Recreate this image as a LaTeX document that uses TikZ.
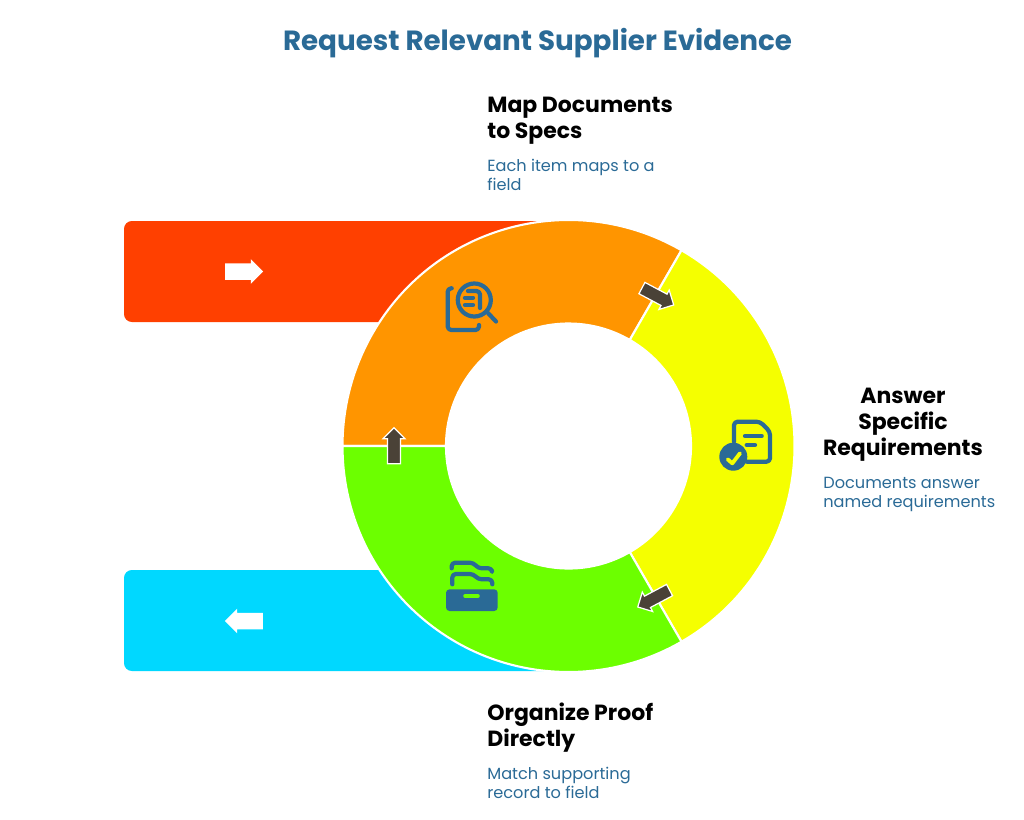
\documentclass[tikz,border=0pt]{standalone}
\usepackage{fontspec}
\setmainfont{Poppins}
\usetikzlibrary{shapes.arrows}
\definecolor{barred}{HTML}{FF4000}
\definecolor{barblue}{HTML}{00D8FF}
\definecolor{segorange}{HTML}{FF9500}
\definecolor{segyellow}{HTML}{F5FF00}
\definecolor{seggreen}{HTML}{6CFF00}
\definecolor{inkblue}{HTML}{2A6A96}
\definecolor{arrowdark}{HTML}{4A4237}
\tikzset{
	segment/.style = {draw = white, line width = 1.2pt},
	turn/.style = {single arrow, draw = white, fill = arrowdark, line width = 0.7pt, minimum height = 36*0.569pt, single arrow head extend = 2.6pt, inner xsep = 0pt, inner ysep = 3.3pt, outer sep = 0pt},
	pointer/.style = {single arrow, fill = white, minimum height = 38*0.569pt, single arrow head extend = 2.3pt, inner xsep = 0pt, inner ysep = 4.5pt, outer sep = 0pt},
	heading/.style = {anchor = base west, font = \fontsize{12.5}{12.5}\selectfont\bfseries, inner sep = 0pt},
	remark/.style = {anchor = base west, font = \fontsize{9.2}{9.2}\selectfont, text = inkblue, inner sep = 0pt},
	icon/.style = {draw = inkblue, line width = 2.4pt, line cap = round, line join = round, rounded corners = 2pt}
}
\begin{document}
\begin{tikzpicture}[x = 0.02cm, y = -0.02cm]
		\useasboundingbox (0,0) rectangle (1024,819);
		%
		\fill [barred, rounded corners = 4.5pt] (124,221) rectangle (600,322);
		\fill [barblue, rounded corners = 4.5pt] (124,570) rectangle (600,671);
		%
		\foreach \from/\to/\col in {60/180/segorange, -60/60/segyellow, -180/-60/seggreen}{
				\filldraw [segment, fill = \col] (568.5,446) ++(\from:226 and -226) arc [start angle = \from, end angle = \to, x radius = 226, y radius = -226] -- ++(180+\to:103.5 and -103.5) arc [start angle = \to, end angle = \from, x radius = 122.5, y radius = -122.5] -- cycle;
			}
		%
		\node (right) [pointer] at (240,271.5) {};
		\node (left) [pointer, rotate = 180] at (248,621) {};
		\node (orange to yellow) [turn, rotate = -28] at (655,295) {};
		\node (yellow to green) [turn, rotate = 208] at (656.5,597) {};
		\node (green to orange) [turn, rotate = 90] at (394,449) {};
		%
		% magnifier
		\draw [icon] (474.3,300) circle [radius = 16.5];
		\draw [icon] (488,313) -- (496,321.5);
		\draw [icon] (451.7,288.3) -- (447.7,288.3) -- (447.7,330) -- (479,330) -- (479,325);
		\draw [icon] (465,297.7) -- (473,297.7);
		\draw [icon] (465,305) -- (473,305);
		\draw [icon] (468,291) -- (480,291) -- (480,308);
		% document
		\draw [icon] (734,441.7) -- (734,421.7) -- (760,421.7) -- (770,431.7) -- (770,461.7) -- (746.7,461.7);
		\draw [icon] (745,436) -- (761.7,436);
		\draw [icon] (746.7,445) -- (755,445);
		\fill [inkblue] (733.3,456.7) circle [radius = 14];
		\draw [segyellow, line width = 2.2pt, line cap = round, line join = round] (727.7,459.3) -- (732.3,463.3) -- (740,453.3);
		% drawer
		\fill [inkblue, rounded corners = 2pt] (446,589.3) rectangle (497.7,611);
		\draw [seggreen, line width = 2pt, line cap = round] (465,596) -- (478,596);
		\draw [icon] (451.7,568.3) -- (451.7,562.7) -- (473.3,562.7) -- (478.3,568.3) -- (492,568.3) -- (492,570.7);
		\draw [icon] (452.3,584.3) -- (452.3,574) -- (473.3,574) -- (478.3,579.3) -- (492.3,579.3) -- (492.3,584.3);
		%
		\node (title) [anchor = base, font = \fontsize{15.8}{15.8}\selectfont\bfseries, text = inkblue, inner sep = 0pt] at (537.5,50) {Request Relevant Supplier Evidence};
		%
		\node (map1) [heading] at (487,112) {Map Documents};
		\node (map2) [heading] at (487,138) {to Specs};
		\node (item1) [remark] at (487,171) {Each item maps to a};
		\node (item2) [remark] at (487,190) {field};
		%
		\node (answer1) [heading, anchor = base] at (903,403) {Answer};
		\node (answer2) [heading, anchor = base] at (903,429) {Specific};
		\node (answer3) [heading, anchor = base] at (903,455) {Requirements};
		\node (doc1) [remark] at (823,488) {Documents answer};
		\node (doc2) [remark] at (823,507) {named requirements};
		%
		\node (org1) [heading] at (487,720) {Organize Proof};
		\node (org2) [heading] at (487,746) {Directly};
		\node (match1) [remark] at (487,779) {Match supporting};
		\node (match2) [remark] at (487,798) {record to field};
	\end{tikzpicture}
\end{document}
